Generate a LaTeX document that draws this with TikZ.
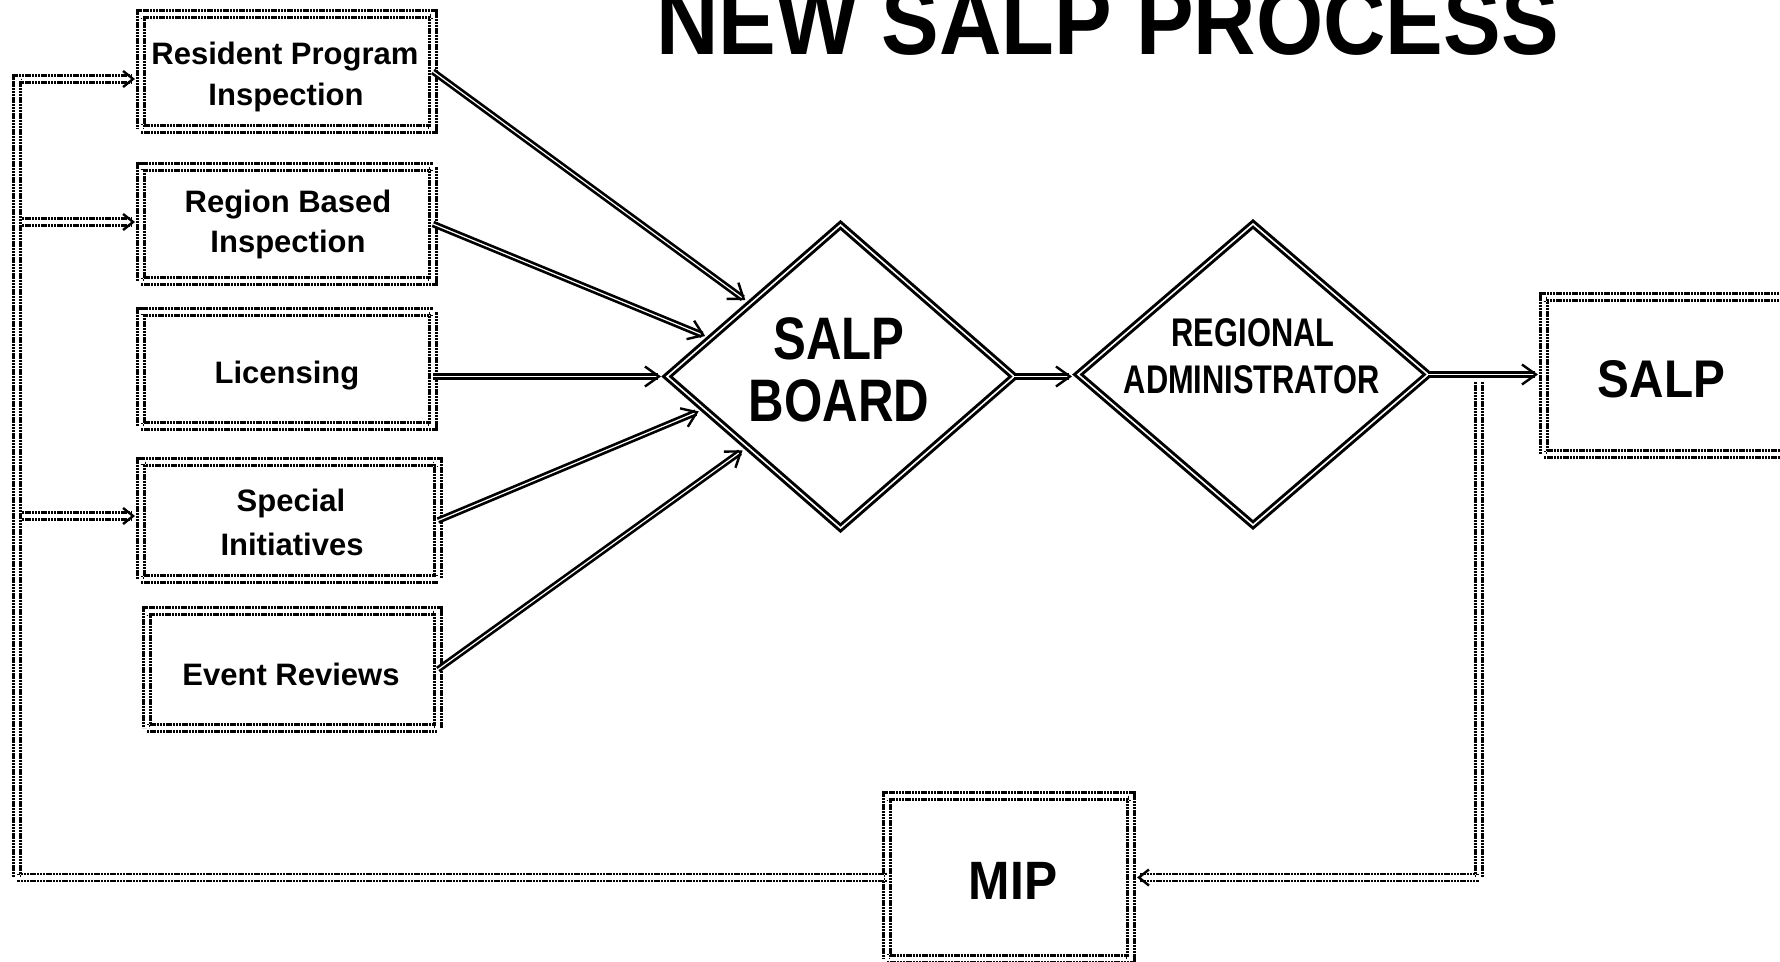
\documentclass[tikz,border=0pt]{standalone}
\usepackage{fontspec}
\setmainfont{Liberation Sans}
\newfontfamily\titlefnt[FakeStretch=0.9]{Liberation Sans}
\newfontfamily\boardfnt[FakeStretch=0.82]{Liberation Sans}
\newfontfamily\regfnt[FakeStretch=0.77]{Liberation Sans}
\newfontfamily\salpfnt[FakeStretch=0.9]{Liberation Sans}
\newfontfamily\mipfnt[FakeStretch=0.92]{Liberation Sans}
\usetikzlibrary{shapes.geometric,arrows.meta,calc}
\tikzset{
  dotbox/.style={rectangle, draw=black, line width=1.4pt, double=white, double distance=2.2pt,
    dash pattern=on 1.2pt off 0.4pt, inner sep=0pt, outer sep=0pt},
  fbline/.style={draw=black, line width=1.4pt, double=white, double distance=2.1pt,
    dash pattern=on 1.2pt off 0.4pt},
  fbarrow/.style={-{Straight Barb[length=5pt,width=8pt,line width=1.2pt]}, shorten >=3pt},
  dia/.style={diamond, draw=black, line width=1.5pt, double=white, double distance=0.8pt,
    inner sep=0pt, outer sep=0pt},
  flow/.style={draw=black, line width=1.35pt, double=white, double distance=0.6pt,
    -{Straight Barb[length=7pt,width=10pt,line width=1.2pt]}, shorten >=3pt},
  boxtxt/.style={anchor=base, inner sep=0pt, font=\fontsize{15.5}{18}\selectfont\bfseries},
  boardtxt/.style={anchor=base, inner sep=0pt, font=\boardfnt\fontsize{30}{32}\selectfont\bfseries},
  regtxt/.style={anchor=base, inner sep=0pt, font=\regfnt\fontsize{20}{22}\selectfont\bfseries},
}
\begin{document}
\begin{tikzpicture}[x=0.5pt,y=-0.5pt]
\useasboundingbox (0,0) rectangle (1780,962);
\clip (0,0) rectangle (1780,962);
\fill[white] (0,0) rectangle (1780,962);

% title
\node[anchor=base, inner sep=0pt, font=\titlefnt\fontsize{48}{50}\selectfont\bfseries] (title) at (1107.5,55) {NEW SALP PROCESS};

% input boxes
\node[dotbox, minimum width=146pt, minimum height=57.5pt] (rpi) at (287,71.5) {};
\node[dotbox, minimum width=146pt, minimum height=57pt] (rbi) at (287,224) {};
\node[dotbox, minimum width=146pt, minimum height=57pt] (lic) at (287,369) {};
\node[dotbox, minimum width=148.5pt, minimum height=58.5pt] (si) at (289.5,520.5) {};
\node[dotbox, minimum width=145.5pt, minimum height=58.5pt] (er) at (292.5,669.5) {};

\node[boxtxt] (rpi1) at (285,65) {Resident Program};
\node[boxtxt] (rpi2) at (286,106) {Inspection};
\node[boxtxt] (rbi1) at (288,213) {Region Based};
\node[boxtxt] (rbi2) at (288,253) {Inspection};
\node[boxtxt] (lic1) at (287,383) {Licensing};
\node[boxtxt] (si1) at (291,511) {Special};
\node[boxtxt] (si2) at (292,555) {Initiatives};
\node[boxtxt] (er1) at (291,685) {Event Reviews};

% diamonds
\node[dia, minimum width=173.5pt, minimum height=151.5pt] (board) at (840.5,376.5) {};
\node[dia, minimum width=175pt, minimum height=150.5pt] (reg) at (1253,374.5) {};
\node[boardtxt] (board1) at (839,359) {SALP};
\node[boardtxt] (board2) at (839,421) {BOARD};
\node[regtxt] (reg1) at (1253,346) {REGIONAL};
\node[regtxt] (reg2) at (1251.5,393) {ADMINISTRATOR};

% output boxes
\node[dotbox, minimum width=138pt, minimum height=78.5pt] (salp) at (1682,375.5) {};
\node[anchor=base, inner sep=0pt, font=\salpfnt\fontsize{26.5}{28}\selectfont\bfseries] (salpt) at (1661.5,397) {SALP};
\node[dotbox, minimum width=122pt, minimum height=81.5pt] (mip) at (1009,877.5) {};
\node[anchor=base, inner sep=0pt, font=\mipfnt\fontsize{27}{29}\selectfont\bfseries] (mipt) at (1013,899) {MIP};

% flows into SALP board
\draw[flow] (rpi.east) -- ($(board.west)!0.48!(board.north)$);
\draw[flow] (rbi.east) -- ($(board.west)!0.252!(board.north)$);
\draw[flow] (lic.east |- board.west) -- (board.west);
\draw[flow] (si.east) -- ($(board.west)!0.215!(board.south)$);
\draw[flow] (er.east) -- ($(board.west)!0.464!(board.south)$);
\draw[flow] (board.east) -- (board.east -| reg.west);
\draw[flow] (reg.east) -- (reg.east -| salp.west);

% feedback loop
\coordinate (fbtop) at (1479,382);
\draw[fbline, fbarrow] (fbtop) |- (mip.east);
\coordinate (fbl) at (17,79);
\draw[fbline, fbarrow] (mip.west) -| (fbl) -- (fbl -| rpi.west);
\coordinate (fb2) at (22,222);
\draw[fbline, fbarrow] (fb2) -- (fb2 -| rbi.west);
\coordinate (fb3) at (22,516);
\draw[fbline, fbarrow] (fb3) -- (fb3 -| si.west);
\end{tikzpicture}
\end{document}
